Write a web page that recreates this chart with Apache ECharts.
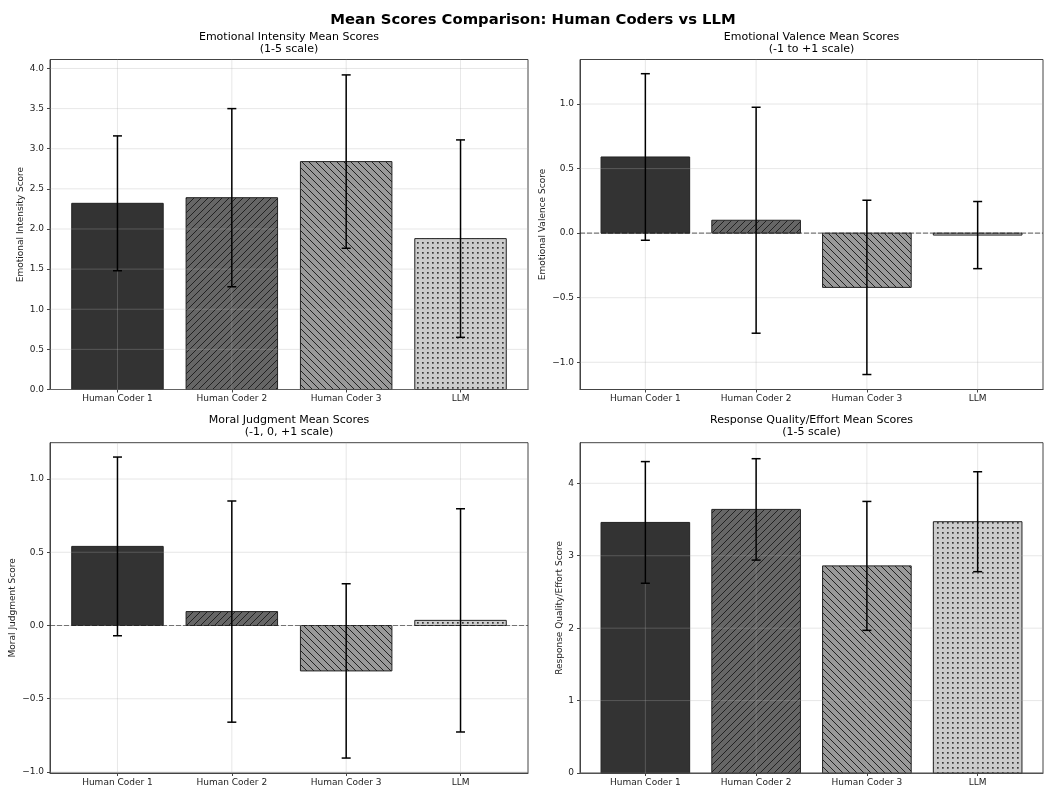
<!DOCTYPE html>
<html>
<head>
<meta charset="utf-8">
<script src="https://cdn.jsdelivr.net/npm/echarts@6/dist/echarts.min.js"></script>
<style>
html,body{margin:0;padding:0;background:#fff;}
#c{width:1045px;height:787px;}
</style>
</head>
<body>
<div id="c"></div>
<script>
// ---- data ----
const categories = ['Human Coder 1', 'Human Coder 2', 'Human Coder 3', 'LLM'];
const categoryX = [0, 1, 2, 3];

const intensityMean = [2.32, 2.39, 2.84, 1.88];
const intensitySd = [0.84, 1.11, 1.08, 1.23];

const valenceMean = [0.59, 0.10, -0.42, -0.015];
const valenceSd = [0.645, 0.875, 0.675, 0.26];

const moralMean = [0.54, 0.095, -0.31, 0.035];
const moralSd = [0.61, 0.755, 0.595, 0.762];

const qualityMean = [3.46, 3.64, 2.86, 3.47];
const qualitySd = [0.84, 0.70, 0.89, 0.69];

const intensityTicks = [0, 0.5, 1, 1.5, 2, 2.5, 3, 3.5, 4];
const valenceTicks = [-1, -0.5, 0, 0.5, 1];
const moralTicks = [-1, -0.5, 0, 0.5, 1];
const qualityTicks = [0, 1, 2, 3, 4];

const panelTitles = [
  'Emotional Intensity Mean Scores\n(1-5 scale)',
  'Emotional Valence Mean Scores\n(-1 to +1 scale)',
  'Moral Judgment Mean Scores\n(-1, 0, +1 scale)',
  'Response Quality/Effort Mean Scores\n(1-5 scale)'
];
const yNames = ['Emotional Intensity Score', 'Emotional Valence Score', 'Moral Judgment Score', 'Response Quality/Effort Score'];
const suptitle = 'Mean Scores Comparison: Human Coders vs LLM';

// ---- styling ----
const FONT = 'DejaVu Sans';
function makePattern(kind) {
  const cv = document.createElement('canvas');
  if (kind === 'fwd' || kind === 'back') {
    const s = 7;
    cv.width = s; cv.height = s;
    const g = cv.getContext('2d');
    g.fillStyle = kind === 'fwd' ? '#666666' : '#999999';
    g.fillRect(0, 0, s, s);
    g.strokeStyle = '#222222';
    g.lineWidth = 1;
    g.beginPath();
    if (kind === 'fwd') {
      for (let k = -1; k <= 1; k++) { g.moveTo(k * s - 1, s + 1); g.lineTo(k * s + s + 1, -1); }
    } else {
      for (let k = -1; k <= 1; k++) { g.moveTo(k * s - 1, -1); g.lineTo(k * s + s + 1, s + 1); }
    }
    g.stroke();
  } else {
    const s = 5;
    cv.width = s; cv.height = s;
    const g = cv.getContext('2d');
    g.fillStyle = '#cccccc';
    g.fillRect(0, 0, s, s);
    g.fillStyle = '#3a3a3a';
    g.fillRect(2, 2, 1.7, 1.7);
  }
  return { image: cv, repeat: 'repeat' };
}
const fills = ['#333333', makePattern('fwd'), makePattern('back'), makePattern('dots')];

const panels = [
  { mean: intensityMean, sd: intensitySd, ticks: intensityTicks, min: 0, max: 4.112, dec: 1, zero: false,
    grid: { left: 50, top: 59.5, width: 478, height: 330 }, nameGap: 25 },
  { mean: valenceMean, sd: valenceSd, ticks: valenceTicks, min: -1.211, max: 1.345, dec: 1, zero: true,
    grid: { left: 580, top: 59.5, width: 463, height: 330 }, nameGap: 33 },
  { mean: moralMean, sd: moralSd, ticks: moralTicks, min: -1.007, max: 1.248, dec: 1, zero: true,
    grid: { left: 50, top: 442.7, width: 478, height: 330.5 }, nameGap: 33 },
  { mean: qualityMean, sd: qualitySd, ticks: qualityTicks, min: 0, max: 4.561, dec: 0, zero: false,
    grid: { left: 580, top: 442.7, width: 463, height: 330.5 }, nameGap: 16 }
];
const XMIN = -0.59, XMAX = 3.59;

const option = {
  backgroundColor: '#ffffff',
  animation: false,
  title: [],
  grid: [], xAxis: [], yAxis: [], series: []
};

option.title.push({
  text: suptitle, left: 533, top: 12, textAlign: 'center', padding: 0,
  textStyle: { fontFamily: FONT, fontSize: 14.8, fontWeight: 'bold', color: '#000', lineHeight: 17 }
});

panels.forEach((p, i) => {
  const g = p.grid;
  option.title.push({
    text: panelTitles[i], left: g.left + g.width / 2, top: g.top - 29, textAlign: 'center', padding: 0,
    textStyle: { fontFamily: FONT, fontSize: 11, fontWeight: 'normal', color: '#000', lineHeight: 12.5 }
  });
  option.grid.push({ left: g.left, top: g.top, width: g.width, height: g.height,
    show: true, borderColor: '#444', borderWidth: 1, backgroundColor: 'transparent', containLabel: false });
  option.xAxis.push({
    type: 'value', gridIndex: i, min: XMIN, max: XMAX,
    axisLine: { show: true, onZero: false, lineStyle: { color: '#444', width: 1 } },
    axisTick: { show: true, customValues: categoryX, length: 3, lineStyle: { color: '#444' } },
    axisLabel: { show: true, customValues: categoryX, margin: 5, fontFamily: FONT, fontSize: 9, color: '#222',
      formatter: v => categories[Math.round(v)] || '' },
    splitLine: { show: false }
  });
  option.yAxis.push({
    type: 'value', gridIndex: i, min: p.min, max: p.max,
    name: yNames[i], nameLocation: 'middle', nameRotate: 90, nameGap: p.nameGap,
    nameTextStyle: { fontFamily: FONT, fontSize: 9, color: '#222' },
    axisLine: { show: true, onZero: false, lineStyle: { color: '#444', width: 1 } },
    axisTick: { show: true, customValues: p.ticks, length: 3, lineStyle: { color: '#444' } },
    axisLabel: { show: true, customValues: p.ticks, margin: 6, fontFamily: FONT, fontSize: 9, color: '#222',
      formatter: v => v.toFixed(p.dec).replace('-', '\u2212') },
    splitLine: { show: false }
  });

  // bars
  option.series.push({
    type: 'custom', xAxisIndex: i, yAxisIndex: i, z: 2,
    data: p.mean.map((m, k) => [categoryX[k], m]),
    renderItem: (params, api) => {
      const x = api.value(0), y = api.value(1);
      const a = api.coord([x - 0.4, 0]);
      const b = api.coord([x + 0.4, y]);
      return { type: 'rect',
        shape: { x: a[0], y: Math.min(a[1], b[1]), width: b[0] - a[0], height: Math.abs(b[1] - a[1]) },
        style: { fill: fills[params.dataIndex], stroke: '#222', lineWidth: 1 } };
    }
  });
  // grid lines (drawn above bars, as in the original)
  const gridData = p.ticks.map(t => ['h', t]).concat(categoryX.map(c => ['v', c]));
  option.series.push({
    type: 'custom', xAxisIndex: i, yAxisIndex: i, z: 3, silent: true,
    data: gridData.map(d => [d[0] === 'h' ? 0 : 1, d[1]]),
    renderItem: (params, api) => {
      const kind = api.value(0), v = api.value(1);
      let a, b;
      if (kind === 0) { a = api.coord([XMIN, v]); b = api.coord([XMAX, v]); }
      else { a = api.coord([v, p.min]); b = api.coord([v, p.max]); }
      return { type: 'line', shape: { x1: a[0], y1: a[1], x2: b[0], y2: b[1] },
        style: { stroke: 'rgba(176,176,176,0.3)', lineWidth: 1 } };
    }
  });
  // zero reference line
  if (p.zero) {
    option.series.push({
      type: 'custom', xAxisIndex: i, yAxisIndex: i, z: 4, silent: true,
      data: [[0]],
      renderItem: (params, api) => {
        const a = api.coord([XMIN, 0]); const b = api.coord([XMAX, 0]);
        return { type: 'line', shape: { x1: a[0], y1: a[1], x2: b[0], y2: b[1] },
          style: { stroke: 'rgba(0,0,0,0.5)', lineWidth: 1.2, lineDash: [5, 2] } };
      }
    });
  }
  // error bars
  option.series.push({
    type: 'custom', xAxisIndex: i, yAxisIndex: i, z: 5,
    data: p.mean.map((m, k) => [categoryX[k], m - p.sd[k], m + p.sd[k]]),
    renderItem: (params, api) => {
      const x = api.value(0);
      const lo = api.coord([x, api.value(1)]);
      const hi = api.coord([x, api.value(2)]);
      const cw = 4.5;
      const st = { stroke: '#000', lineWidth: 1.5 };
      return { type: 'group', children: [
        { type: 'line', shape: { x1: lo[0], y1: lo[1], x2: hi[0], y2: hi[1] }, style: st },
        { type: 'line', shape: { x1: lo[0] - cw, y1: lo[1], x2: lo[0] + cw, y2: lo[1] }, style: st },
        { type: 'line', shape: { x1: hi[0] - cw, y1: hi[1], x2: hi[0] + cw, y2: hi[1] }, style: st }
      ] };
    }
  });
});

const chart = echarts.init(document.getElementById('c'), null, { renderer: 'canvas' });
chart.setOption(option);
</script>
</body>
</html>
